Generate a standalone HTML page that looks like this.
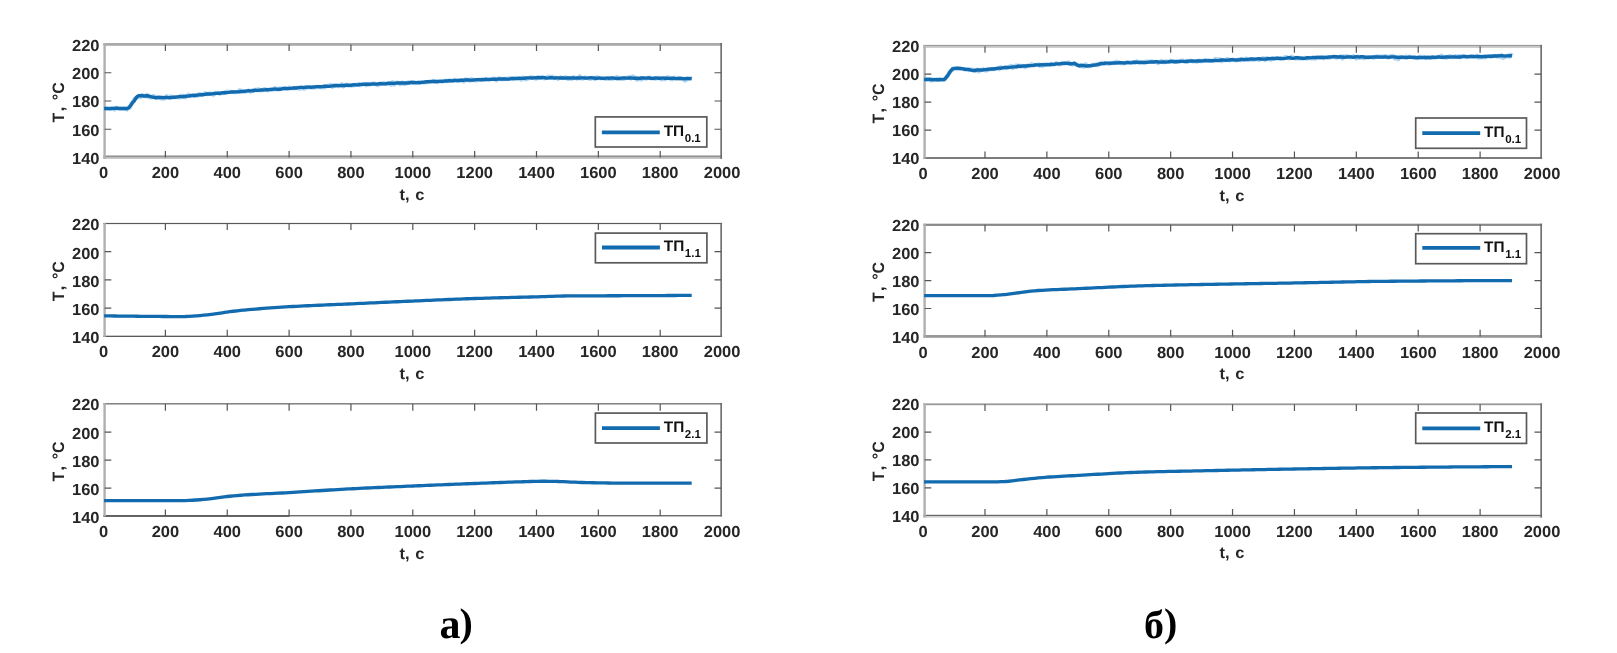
<!DOCTYPE html>
<html lang="ru"><head><meta charset="utf-8"><title>График</title>
<style>
html,body{margin:0;padding:0;background:#fff;}
body{width:1617px;height:653px;overflow:hidden;}
svg{display:block;text-rendering:geometricPrecision;filter:blur(0.4px);}
.t{font-family:"Liberation Sans",sans-serif;font-weight:bold;font-size:16px;fill:#262626;}
.s{font-family:"Liberation Sans",sans-serif;font-weight:bold;font-size:11.5px;fill:#111;}
.lg{font-family:"Liberation Sans",sans-serif;font-weight:bold;font-size:15.4px;fill:#111;}
.cap{font-family:"Liberation Serif",serif;font-weight:bold;font-size:40px;fill:#000;}
</style></head><body>
<svg width="1617" height="653" viewBox="0 0 1617 653">
<rect width="1617" height="653" fill="#fff"/>

<g id="L1">
<clipPath id="cL1"><rect x="104.10" y="44.50" width="616.40" height="113.00"/></clipPath>
<rect x="103.40" y="43.00" width="618.70" height="2.80" fill="#ababab"/>
<rect x="103.40" y="155.60" width="618.70" height="1.20" fill="#6a6a6a"/>
<rect x="103.40" y="156.80" width="618.70" height="2.00" fill="#bdbdbd"/>
<rect x="103.40" y="43.00" width="2.40" height="115.80" fill="#b0b0b0"/>
<rect x="720.35" y="43.00" width="1.60" height="115.80" fill="#6a6a6a"/>
<path d="M165.40,157.50v-6.6M165.40,44.50v6.6M227.25,157.50v-6.6M227.25,44.50v6.6M289.10,157.50v-6.6M289.10,44.50v6.6M350.95,157.50v-6.6M350.95,44.50v6.6M412.80,157.50v-6.6M412.80,44.50v6.6M474.65,157.50v-6.6M474.65,44.50v6.6M536.50,157.50v-6.6M536.50,44.50v6.6M598.35,157.50v-6.6M598.35,44.50v6.6M660.20,157.50v-6.6M660.20,44.50v6.6M104.70,129.25h6.6M721.10,129.25h-6.6M104.70,101.00h6.6M721.10,101.00h-6.6M104.70,72.75h6.6M721.10,72.75h-6.6" stroke="#555" stroke-width="1.2" fill="none"/>
<path d="M103.5,108.49 105.1,108.78 106.6,108.47 108.2,108.23 109.7,108.99 111.3,108.48 112.8,108.49 114.4,109.60 115.9,107.84 117.5,108.10 119.0,108.88 120.6,108.60 122.1,108.17 123.7,108.65 125.2,108.64 126.7,109.41 127.4,108.13 128.3,107.97 129.2,107.04 129.8,107.57 131.4,103.53 132.9,102.19 133.9,101.25 134.5,98.86 136.0,97.97 137.6,97.26 139.1,95.89 140.7,97.09 142.2,94.97 143.8,95.90 145.3,96.10 146.5,94.95 146.8,96.69 148.4,95.54 149.9,97.58 150.9,96.90 151.5,97.38 153.0,96.09 154.6,96.28 156.1,97.81 156.4,97.08 157.7,97.72 159.2,97.25 160.8,98.09 162.3,98.70 163.9,98.76 165.4,97.37 166.9,96.18 168.5,97.44 170.0,97.94 170.7,96.39 171.6,97.44 173.1,97.43 174.7,97.17 176.2,97.21 177.8,97.11 179.3,97.63 180.2,96.30 180.9,96.62 182.4,95.66 184.0,96.50 185.5,97.33 187.0,96.04 188.6,94.75 190.1,95.93 191.7,96.11 193.2,96.16 194.8,95.93 196.3,95.31 197.9,95.73 199.4,93.89 201.0,94.89 202.5,94.50 204.1,93.52 205.6,93.34 207.1,94.30 208.7,93.82 210.2,93.43 211.8,93.89 213.3,94.77 214.9,93.10 216.4,92.82 218.0,93.00 219.5,93.72 221.1,93.14 222.6,93.26 224.2,92.96 225.7,91.82 227.2,91.55 228.8,91.98 230.3,91.94 231.9,91.74 233.4,92.06 235.0,91.98 236.5,92.25 238.1,91.74 239.6,90.15 241.2,90.93 242.7,91.58 244.3,91.55 245.8,91.69 247.4,90.79 248.9,90.67 250.4,91.73 252.0,90.39 253.5,90.95 255.1,89.58 256.6,90.28 258.2,89.18 259.7,90.46 261.3,90.24 262.8,89.76 264.4,89.18 265.9,89.39 267.5,90.43 269.0,89.43 270.5,89.43 272.1,89.62 273.6,89.66 275.2,88.03 276.7,89.29 278.3,89.49 279.8,88.45 281.4,88.67 282.9,88.71 284.5,88.07 286.0,88.16 287.6,88.15 289.1,87.67 290.6,88.02 292.2,88.50 293.7,88.24 295.3,88.25 296.8,87.70 298.4,88.43 299.9,88.82 301.5,87.51 303.0,88.33 304.6,88.63 306.1,87.07 307.7,87.67 309.2,86.82 310.7,87.39 312.3,87.68 313.8,87.67 315.4,87.12 316.9,86.89 318.5,87.15 320.0,86.73 321.6,87.44 323.1,86.38 324.7,87.45 326.2,86.35 327.8,85.70 329.3,85.38 330.8,84.90 332.4,86.90 333.9,85.36 335.5,85.00 337.0,85.06 338.6,86.20 340.1,85.28 341.7,84.28 343.2,86.34 344.8,85.02 346.3,84.54 347.9,85.62 349.4,84.74 350.9,85.72 352.5,85.49 354.0,85.42 355.6,84.71 357.1,84.83 358.7,84.10 360.2,85.24 361.8,84.66 363.3,83.91 364.9,84.10 366.4,85.24 368.0,83.91 369.5,84.58 371.1,83.97 372.6,83.97 374.1,83.33 375.7,83.97 377.2,85.17 378.8,84.80 380.3,83.41 381.9,83.98 383.4,83.04 385.0,83.53 386.5,84.12 388.1,82.90 389.6,84.05 391.2,84.78 392.7,82.11 394.2,84.58 395.8,82.90 397.3,82.65 398.9,83.10 400.4,84.20 402.0,82.43 403.5,83.93 405.1,83.81 406.6,83.12 408.2,82.33 409.7,82.57 411.3,82.19 412.8,82.92 414.3,82.68 415.9,83.23 417.4,82.64 419.0,81.99 420.5,82.49 422.1,81.92 423.6,82.52 425.2,82.45 426.7,81.98 428.3,82.05 429.8,81.48 431.4,81.66 432.9,80.59 434.4,81.76 436.0,81.69 437.5,82.13 439.1,81.38 440.6,80.88 442.2,81.71 443.7,81.19 445.3,80.62 446.8,81.09 448.4,81.26 449.9,80.24 451.5,80.72 453.0,80.45 454.5,79.89 456.1,79.83 457.6,80.71 459.2,80.76 460.7,80.17 462.3,80.37 463.8,81.43 465.4,79.35 466.9,80.08 468.5,79.57 470.0,80.72 471.6,79.10 473.1,80.24 474.7,79.88 476.2,80.65 477.7,79.82 479.3,79.81 480.8,79.74 482.4,79.30 483.9,79.50 485.5,78.88 487.0,79.76 488.6,80.06 490.1,79.40 491.7,78.95 493.2,78.52 494.8,78.75 496.3,80.35 497.8,78.95 499.4,78.22 500.9,79.07 502.5,79.39 504.0,78.82 505.6,79.28 507.1,78.50 508.7,78.86 510.2,77.89 511.8,78.39 513.3,79.08 514.9,78.16 516.4,77.86 517.9,78.73 519.5,78.56 521.0,79.67 522.6,77.55 524.1,78.42 525.7,79.32 527.2,79.03 528.8,77.99 530.3,77.31 531.9,77.81 533.4,77.42 535.0,78.40 536.5,78.55 538.0,77.13 539.6,77.39 541.1,77.73 542.7,76.90 544.2,78.33 545.8,78.01 547.3,77.11 548.9,76.61 550.4,77.79 552.0,76.74 553.5,78.21 555.1,77.64 556.6,77.98 558.1,78.90 559.7,77.74 561.2,77.33 562.8,78.03 564.3,78.00 565.9,77.08 567.4,78.77 569.0,78.94 570.5,78.41 572.1,78.77 573.6,77.16 575.2,77.83 576.7,78.58 578.2,78.43 579.8,76.23 581.3,78.45 582.9,78.55 584.4,77.88 586.0,77.68 587.5,77.95 589.1,78.68 590.6,78.84 592.2,77.73 593.7,78.15 595.3,79.16 596.8,77.37 598.4,77.62 599.9,78.27 601.4,78.28 603.0,77.97 604.5,78.55 606.1,78.97 607.6,77.91 609.2,79.03 610.7,77.87 612.3,79.03 613.8,78.18 615.4,78.20 616.9,76.98 618.5,78.79 620.0,79.02 621.5,78.53 623.1,78.83 624.6,78.49 626.2,77.85 627.7,77.63 629.3,77.06 630.8,78.59 632.4,76.44 633.9,76.86 635.5,78.25 637.0,79.57 638.6,78.17 640.1,78.07 641.6,79.58 643.2,78.07 644.7,78.24 646.3,78.62 647.8,77.72 649.4,77.49 650.9,78.44 652.5,77.99 654.0,78.56 655.6,78.66 657.1,78.12 658.7,77.85 660.2,78.56 661.7,79.62 663.3,77.86 664.8,79.27 666.4,78.19 667.9,77.16 669.5,78.32 671.0,79.09 672.6,79.28 674.1,77.64 675.7,78.41 677.2,78.09 678.8,77.87 680.3,78.51 681.8,78.70 683.4,79.14 684.9,80.52 686.5,79.55 688.0,78.66 689.6,78.75 691.1,78.41 691.7,78.68" fill="none" stroke="#8fc4ec" stroke-width="4.2" stroke-linejoin="round" opacity="0.7" clip-path="url(#cL1)"/>
<path d="M103.5,108.49 105.1,108.44 106.6,108.56 108.2,108.66 109.7,108.63 111.3,108.46 112.8,108.40 114.4,108.34 115.9,108.22 117.5,108.28 119.0,108.39 120.6,108.48 122.1,108.58 123.7,108.51 125.2,108.54 126.7,108.59 127.4,108.47 128.3,108.02 129.2,107.20 129.8,106.56 131.4,104.42 132.9,102.13 133.9,101.11 134.5,100.38 136.0,97.99 137.6,96.27 139.1,95.66 140.7,95.70 142.2,95.77 143.8,95.95 145.3,95.94 146.5,95.81 146.8,95.73 148.4,96.01 149.9,96.45 150.9,96.67 151.5,96.80 153.0,97.14 154.6,97.50 156.1,97.72 156.4,97.66 157.7,97.55 159.2,97.54 160.8,97.53 162.3,97.57 163.9,97.64 165.4,97.57 166.9,97.52 168.5,97.58 170.0,97.66 170.7,97.64 171.6,97.40 173.1,97.25 174.7,97.27 176.2,97.13 177.8,96.88 179.3,96.63 180.2,96.47 180.9,96.58 182.4,96.70 184.0,96.55 185.5,96.27 187.0,96.08 188.6,95.95 190.1,95.76 191.7,95.40 193.2,95.31 194.8,95.49 196.3,95.30 197.9,94.96 199.4,94.84 201.0,94.82 202.5,94.79 204.1,94.58 205.6,94.21 207.1,94.00 208.7,94.01 210.2,93.99 211.8,93.82 213.3,93.63 214.9,93.46 216.4,93.38 218.0,93.31 219.5,93.22 221.1,93.09 222.6,92.79 224.2,92.65 225.7,92.69 227.2,92.60 228.8,92.43 230.3,92.17 231.9,92.02 233.4,91.97 235.0,91.86 236.5,91.85 238.1,91.83 239.6,91.70 241.2,91.54 242.7,91.40 244.3,91.29 245.8,91.16 247.4,90.92 248.9,90.79 250.4,90.89 252.0,90.85 253.5,90.53 255.1,90.32 256.6,90.40 258.2,90.41 259.7,90.12 261.3,89.98 262.8,90.05 264.4,89.92 265.9,89.80 267.5,89.73 269.0,89.61 270.5,89.54 272.1,89.31 273.6,89.07 275.2,89.10 276.7,89.24 278.3,89.27 279.8,89.20 281.4,88.95 282.9,88.60 284.5,88.56 286.0,88.68 287.6,88.65 289.1,88.50 290.6,88.37 292.2,88.17 293.7,87.94 295.3,87.96 296.8,87.95 298.4,87.67 299.9,87.40 301.5,87.36 303.0,87.45 304.6,87.38 306.1,87.24 307.7,87.14 309.2,87.13 310.7,87.21 312.3,87.15 313.8,87.00 315.4,86.84 316.9,86.62 318.5,86.61 320.0,86.68 321.6,86.59 323.1,86.47 324.7,86.30 326.2,86.21 327.8,86.36 329.3,86.34 330.8,86.07 332.4,85.91 333.9,85.80 335.5,85.71 337.0,85.64 338.6,85.58 340.1,85.59 341.7,85.56 343.2,85.55 344.8,85.46 346.3,85.21 347.9,85.19 349.4,85.36 350.9,85.26 352.5,84.94 354.0,84.80 355.6,84.86 357.1,84.91 358.7,84.74 360.2,84.41 361.8,84.33 363.3,84.35 364.9,84.28 366.4,84.22 368.0,84.23 369.5,84.24 371.1,84.15 372.6,84.04 374.1,83.99 375.7,84.09 377.2,84.05 378.8,83.81 380.3,83.68 381.9,83.77 383.4,83.84 385.0,83.79 386.5,83.60 388.1,83.35 389.6,83.25 391.2,83.27 392.7,83.35 394.2,83.34 395.8,83.11 397.3,82.96 398.9,83.03 400.4,83.04 402.0,82.97 403.5,82.95 405.1,82.93 406.6,82.98 408.2,82.95 409.7,82.74 411.3,82.52 412.8,82.42 414.3,82.49 415.9,82.58 417.4,82.67 419.0,82.74 420.5,82.58 422.1,82.34 423.6,82.19 425.2,81.94 426.7,81.79 428.3,81.79 429.8,81.67 431.4,81.59 432.9,81.57 434.4,81.53 436.0,81.50 437.5,81.48 439.1,81.40 440.6,81.34 442.2,81.24 443.7,81.08 445.3,81.03 446.8,80.96 448.4,80.81 449.9,80.80 451.5,80.86 453.0,80.68 454.5,80.57 456.1,80.59 457.6,80.57 459.2,80.47 460.7,80.28 462.3,80.24 463.8,80.18 465.4,80.04 466.9,80.01 468.5,80.03 470.0,80.09 471.6,80.12 473.1,80.07 474.7,79.86 476.2,79.64 477.7,79.58 479.3,79.61 480.8,79.74 482.4,79.77 483.9,79.61 485.5,79.44 487.0,79.39 488.6,79.37 490.1,79.33 491.7,79.33 493.2,79.25 494.8,79.16 496.3,79.21 497.8,79.11 499.4,78.95 500.9,78.96 502.5,79.01 504.0,78.93 505.6,78.91 507.1,79.12 508.7,79.16 510.2,78.87 511.8,78.56 513.3,78.51 514.9,78.62 516.4,78.60 517.9,78.40 519.5,78.29 521.0,78.36 522.6,78.39 524.1,78.24 525.7,77.99 527.2,77.85 528.8,77.83 530.3,77.91 531.9,77.96 533.4,77.87 535.0,77.81 536.5,77.72 538.0,77.68 539.6,77.81 541.1,77.80 542.7,77.64 544.2,77.67 545.8,77.96 547.3,78.14 548.9,77.91 550.4,77.66 552.0,77.69 553.5,77.88 555.1,77.99 556.6,77.91 558.1,77.88 559.7,78.00 561.2,78.05 562.8,78.03 564.3,78.06 565.9,78.10 567.4,78.05 569.0,78.03 570.5,78.02 572.1,77.89 573.6,77.95 575.2,78.10 576.7,77.99 578.2,77.94 579.8,77.98 581.3,77.91 582.9,77.90 584.4,77.96 586.0,78.13 587.5,78.15 589.1,77.89 590.6,77.75 592.2,77.86 593.7,78.00 595.3,78.19 596.8,78.31 598.4,78.13 599.9,78.07 601.4,78.27 603.0,78.39 604.5,78.36 606.1,78.16 607.6,78.08 609.2,78.23 610.7,78.16 612.3,78.00 613.8,78.12 615.4,78.34 616.9,78.45 618.5,78.38 620.0,78.19 621.5,78.10 623.1,77.99 624.6,78.00 626.2,78.17 627.7,78.17 629.3,78.05 630.8,78.04 632.4,78.17 633.9,78.24 635.5,78.16 637.0,78.29 638.6,78.46 640.1,78.29 641.6,77.99 643.2,77.88 644.7,78.12 646.3,78.17 647.8,77.95 649.4,78.00 650.9,78.21 652.5,78.33 654.0,78.24 655.6,78.06 657.1,78.15 658.7,78.29 660.2,78.20 661.7,78.10 663.3,78.17 664.8,78.20 666.4,78.19 667.9,78.30 669.5,78.36 671.0,78.22 672.6,78.14 674.1,78.35 675.7,78.58 677.2,78.62 678.8,78.52 680.3,78.51 681.8,78.53 683.4,78.62 684.9,78.68 686.5,78.57 688.0,78.55 689.6,78.63 691.1,78.60 691.7,78.68" fill="none" stroke="#126aaf" stroke-width="3.4" stroke-linejoin="round" clip-path="url(#cL1)"/>
<text class="t" transform="translate(103.55 178.30) scale(1.03 1)" text-anchor="middle">0</text>
<text class="t" transform="translate(165.40 178.30) scale(1.03 1)" text-anchor="middle">200</text>
<text class="t" transform="translate(227.25 178.30) scale(1.03 1)" text-anchor="middle">400</text>
<text class="t" transform="translate(289.10 178.30) scale(1.03 1)" text-anchor="middle">600</text>
<text class="t" transform="translate(350.95 178.30) scale(1.03 1)" text-anchor="middle">800</text>
<text class="t" transform="translate(412.80 178.30) scale(1.03 1)" text-anchor="middle">1000</text>
<text class="t" transform="translate(474.65 178.30) scale(1.03 1)" text-anchor="middle">1200</text>
<text class="t" transform="translate(536.50 178.30) scale(1.03 1)" text-anchor="middle">1400</text>
<text class="t" transform="translate(598.35 178.30) scale(1.03 1)" text-anchor="middle">1600</text>
<text class="t" transform="translate(660.20 178.30) scale(1.03 1)" text-anchor="middle">1800</text>
<text class="t" transform="translate(722.05 178.30) scale(1.03 1)" text-anchor="middle">2000</text>
<text class="t" transform="translate(99.50 163.90) scale(1.03 1)" text-anchor="end">140</text>
<text class="t" transform="translate(99.50 135.65) scale(1.03 1)" text-anchor="end">160</text>
<text class="t" transform="translate(99.50 107.40) scale(1.03 1)" text-anchor="end">180</text>
<text class="t" transform="translate(99.50 79.15) scale(1.03 1)" text-anchor="end">200</text>
<text class="t" transform="translate(99.50 50.90) scale(1.03 1)" text-anchor="end">220</text>
<text class="t" transform="translate(412.00 200.30) scale(1.03 1)" text-anchor="middle" word-spacing="1.2">t, с</text>
<text class="t" transform="translate(64.00,122.40) rotate(-90) scale(1 1.03)" word-spacing="2.2">T<tspan dx="3.1">,</tspan> °C</text>
<rect x="595.3" y="116.9" width="111.50" height="30.10" fill="#fff" stroke="#5a5a5a" stroke-width="1.7"/>
<path d="M601.90,132.30H659.80" stroke="#126aaf" stroke-width="3.8"/>
<text class="lg" x="663.70" y="135.90">ТП<tspan class="s" dx="0.6" dy="5.9">0.1</tspan></text>
</g>
<g id="L2">
<clipPath id="cL2"><rect x="104.10" y="223.50" width="616.40" height="112.80"/></clipPath>
<rect x="103.40" y="222.90" width="618.70" height="1.20" fill="#5a5a5a"/>
<rect x="103.40" y="335.70" width="618.70" height="1.20" fill="#4a4a4a"/>
<rect x="103.40" y="222.90" width="2.40" height="114.00" fill="#b0b0b0"/>
<rect x="720.35" y="222.90" width="1.60" height="114.00" fill="#6a6a6a"/>
<path d="M165.40,336.30v-6.6M165.40,223.50v6.6M227.25,336.30v-6.6M227.25,223.50v6.6M289.10,336.30v-6.6M289.10,223.50v6.6M350.95,336.30v-6.6M350.95,223.50v6.6M412.80,336.30v-6.6M412.80,223.50v6.6M474.65,336.30v-6.6M474.65,223.50v6.6M536.50,336.30v-6.6M536.50,223.50v6.6M598.35,336.30v-6.6M598.35,223.50v6.6M660.20,336.30v-6.6M660.20,223.50v6.6M104.70,308.10h6.6M721.10,308.10h-6.6M104.70,279.90h6.6M721.10,279.90h-6.6M104.70,251.70h6.6M721.10,251.70h-6.6" stroke="#555" stroke-width="1.2" fill="none"/>
<path d="M103.5,315.86 107.3,315.90 111.0,315.95 114.7,316.00 118.4,316.05 122.1,316.09 125.8,316.13 129.5,316.17 133.2,316.21 136.9,316.24 140.7,316.28 144.4,316.31 148.1,316.35 151.8,316.38 155.5,316.42 159.2,316.45 162.9,316.48 166.6,316.51 170.3,316.53 174.1,316.55 177.8,316.56 180.9,316.56 181.5,316.56 185.2,316.48 188.9,316.31 192.6,316.09 196.3,315.86 200.0,315.58 203.7,315.22 207.5,314.81 211.2,314.38 211.8,314.30 214.9,313.90 218.6,313.34 222.3,312.76 226.0,312.22 227.2,312.05 229.7,311.73 233.4,311.25 237.1,310.81 240.9,310.40 242.7,310.22 244.6,310.04 248.3,309.69 252.0,309.36 255.7,309.04 259.4,308.74 263.1,308.44 266.8,308.16 270.5,307.89 274.3,307.63 278.0,307.38 281.7,307.14 285.4,306.91 289.1,306.69 292.8,306.48 296.5,306.28 300.2,306.09 303.9,305.91 307.7,305.73 311.4,305.56 315.1,305.40 318.8,305.24 322.5,305.08 326.2,304.93 329.9,304.77 333.6,304.62 337.3,304.46 341.1,304.31 344.8,304.15 348.5,303.98 350.9,303.87 352.2,303.81 355.9,303.64 359.6,303.47 363.3,303.30 367.0,303.13 370.7,302.96 374.5,302.79 378.2,302.61 381.9,302.44 385.6,302.27 389.3,302.10 393.0,301.93 396.7,301.76 400.4,301.60 404.1,301.43 407.9,301.27 411.6,301.10 412.8,301.05 415.3,300.94 419.0,300.78 422.7,300.62 426.4,300.45 430.1,300.29 433.8,300.13 437.5,299.97 441.3,299.81 445.0,299.65 448.7,299.49 452.4,299.34 456.1,299.19 459.8,299.04 463.5,298.90 467.2,298.77 470.9,298.64 474.7,298.51 478.4,298.39 482.1,298.28 485.8,298.17 489.5,298.06 493.2,297.95 496.9,297.85 500.6,297.75 504.3,297.66 508.0,297.56 511.8,297.46 515.5,297.37 519.2,297.27 522.9,297.18 526.6,297.08 530.3,296.99 534.0,296.89 536.5,296.82 537.7,296.79 541.4,296.67 545.2,296.55 548.9,296.43 552.6,296.30 556.3,296.19 560.0,296.10 563.7,296.02 567.4,295.97 571.1,295.94 574.8,295.92 578.6,295.89 582.3,295.87 586.0,295.85 589.7,295.84 593.4,295.82 597.1,295.81 600.8,295.79 604.5,295.78 608.2,295.77 612.0,295.76 615.7,295.74 619.4,295.73 623.1,295.72 626.8,295.70 629.3,295.69 630.5,295.69 634.2,295.67 637.9,295.65 641.6,295.64 645.4,295.62 649.1,295.60 652.8,295.59 656.5,295.57 660.2,295.55 663.9,295.54 667.6,295.52 671.3,295.50 675.0,295.49 678.8,295.47 682.5,295.45 686.2,295.44 689.9,295.42 691.7,295.41" fill="none" stroke="#126aaf" stroke-width="3.3" stroke-linejoin="round" clip-path="url(#cL2)"/>
<text class="t" transform="translate(103.55 357.10) scale(1.03 1)" text-anchor="middle">0</text>
<text class="t" transform="translate(165.40 357.10) scale(1.03 1)" text-anchor="middle">200</text>
<text class="t" transform="translate(227.25 357.10) scale(1.03 1)" text-anchor="middle">400</text>
<text class="t" transform="translate(289.10 357.10) scale(1.03 1)" text-anchor="middle">600</text>
<text class="t" transform="translate(350.95 357.10) scale(1.03 1)" text-anchor="middle">800</text>
<text class="t" transform="translate(412.80 357.10) scale(1.03 1)" text-anchor="middle">1000</text>
<text class="t" transform="translate(474.65 357.10) scale(1.03 1)" text-anchor="middle">1200</text>
<text class="t" transform="translate(536.50 357.10) scale(1.03 1)" text-anchor="middle">1400</text>
<text class="t" transform="translate(598.35 357.10) scale(1.03 1)" text-anchor="middle">1600</text>
<text class="t" transform="translate(660.20 357.10) scale(1.03 1)" text-anchor="middle">1800</text>
<text class="t" transform="translate(722.05 357.10) scale(1.03 1)" text-anchor="middle">2000</text>
<text class="t" transform="translate(99.50 343.25) scale(1.03 1)" text-anchor="end">140</text>
<text class="t" transform="translate(99.50 315.05) scale(1.03 1)" text-anchor="end">160</text>
<text class="t" transform="translate(99.50 286.85) scale(1.03 1)" text-anchor="end">180</text>
<text class="t" transform="translate(99.50 258.65) scale(1.03 1)" text-anchor="end">200</text>
<text class="t" transform="translate(99.50 230.45) scale(1.03 1)" text-anchor="end">220</text>
<text class="t" transform="translate(412.00 379.10) scale(1.03 1)" text-anchor="middle" word-spacing="1.2">t, с</text>
<text class="t" transform="translate(64.00,301.30) rotate(-90) scale(1 1.03)" word-spacing="2.2">T<tspan dx="3.1">,</tspan> °C</text>
<rect x="595.4" y="233.1" width="111.50" height="29.70" fill="#fff" stroke="#5a5a5a" stroke-width="1.7"/>
<path d="M602.00,247.50H659.90" stroke="#126aaf" stroke-width="3.8"/>
<text class="lg" x="663.80" y="251.40">ТП<tspan class="s" dx="0.6" dy="5.9">1.1</tspan></text>
</g>
<g id="L3">
<clipPath id="cL3"><rect x="104.10" y="404.10" width="616.40" height="112.00"/></clipPath>
<rect x="103.40" y="403.10" width="618.70" height="1.40" fill="#777"/>
<rect x="103.40" y="515.10" width="618.70" height="1.30" fill="#5e5e5e"/>
<rect x="103.40" y="515.20" width="186.20" height="1.70" fill="#5e5e5e"/>
<rect x="103.40" y="403.10" width="2.40" height="113.30" fill="#b0b0b0"/>
<rect x="720.35" y="403.10" width="1.60" height="113.30" fill="#6a6a6a"/>
<path d="M165.40,516.10v-6.6M165.40,404.10v6.6M227.25,516.10v-6.6M227.25,404.10v6.6M289.10,516.10v-6.6M289.10,404.10v6.6M350.95,516.10v-6.6M350.95,404.10v6.6M412.80,516.10v-6.6M412.80,404.10v6.6M474.65,516.10v-6.6M474.65,404.10v6.6M536.50,516.10v-6.6M536.50,404.10v6.6M598.35,516.10v-6.6M598.35,404.10v6.6M660.20,516.10v-6.6M660.20,404.10v6.6M104.70,488.10h6.6M721.10,488.10h-6.6M104.70,460.10h6.6M721.10,460.10h-6.6M104.70,432.10h6.6M721.10,432.10h-6.6" stroke="#555" stroke-width="1.2" fill="none"/>
<path d="M103.5,500.70 107.3,500.70 111.0,500.70 114.7,500.70 118.4,500.70 122.1,500.70 125.8,500.70 129.5,500.70 133.2,500.70 136.9,500.70 140.7,500.70 144.4,500.70 148.1,500.70 151.8,500.70 155.5,500.70 159.2,500.70 162.9,500.70 166.6,500.70 170.3,500.70 174.1,500.70 177.8,500.70 180.9,500.70 181.5,500.70 185.2,500.62 188.9,500.45 192.6,500.23 196.3,500.00 200.0,499.74 203.7,499.42 207.5,499.06 211.2,498.67 211.8,498.60 214.9,498.22 218.6,497.69 222.3,497.14 226.0,496.64 227.2,496.50 229.7,496.24 233.4,495.87 237.1,495.54 240.9,495.24 242.7,495.10 244.6,494.97 248.3,494.73 252.0,494.50 255.7,494.29 259.4,494.09 263.1,493.90 266.8,493.72 270.5,493.53 274.3,493.35 278.0,493.17 281.7,492.98 285.4,492.79 289.1,492.58 292.8,492.36 296.5,492.14 300.2,491.91 303.9,491.68 307.7,491.44 311.4,491.21 315.1,490.97 318.8,490.73 322.5,490.49 326.2,490.25 329.9,490.02 333.6,489.79 337.3,489.57 341.1,489.35 344.8,489.13 348.5,488.93 350.9,488.80 352.2,488.74 355.9,488.55 359.6,488.36 363.3,488.18 367.0,488.01 370.7,487.83 374.5,487.66 378.2,487.49 381.9,487.33 385.6,487.17 389.3,487.01 393.0,486.85 396.7,486.69 400.4,486.53 404.1,486.37 407.9,486.21 411.6,486.05 412.8,486.00 415.3,485.89 419.0,485.74 422.7,485.58 426.4,485.42 430.1,485.27 433.8,485.11 437.5,484.96 441.3,484.81 445.0,484.65 448.7,484.50 452.4,484.35 456.1,484.20 459.8,484.06 463.5,483.91 467.2,483.77 470.9,483.62 474.7,483.48 478.4,483.34 482.1,483.19 485.8,483.05 489.5,482.91 493.2,482.76 496.9,482.62 500.6,482.49 504.3,482.35 508.0,482.22 511.8,482.09 515.5,481.97 519.2,481.86 521.0,481.80 522.9,481.74 526.6,481.62 530.3,481.49 534.0,481.38 537.7,481.29 541.4,481.24 542.7,481.24 545.2,481.25 548.9,481.30 552.6,481.38 556.3,481.47 558.1,481.52 560.0,481.57 563.7,481.71 567.4,481.87 571.1,482.04 574.8,482.22 578.6,482.37 582.3,482.49 582.9,482.50 586.0,482.57 589.7,482.65 593.4,482.74 597.1,482.81 600.8,482.89 604.5,482.96 608.2,483.02 612.0,483.07 615.7,483.12 619.4,483.16 623.1,483.18 626.8,483.20 629.3,483.20 630.5,483.20 634.2,483.20 637.9,483.20 641.6,483.20 645.4,483.20 649.1,483.20 652.8,483.20 656.5,483.20 660.2,483.20 663.9,483.20 667.6,483.20 671.3,483.20 675.0,483.20 678.8,483.20 682.5,483.20 686.2,483.20 689.9,483.20 691.7,483.20" fill="none" stroke="#126aaf" stroke-width="3.3" stroke-linejoin="round" clip-path="url(#cL3)"/>
<text class="t" transform="translate(103.55 536.90) scale(1.03 1)" text-anchor="middle">0</text>
<text class="t" transform="translate(165.40 536.90) scale(1.03 1)" text-anchor="middle">200</text>
<text class="t" transform="translate(227.25 536.90) scale(1.03 1)" text-anchor="middle">400</text>
<text class="t" transform="translate(289.10 536.90) scale(1.03 1)" text-anchor="middle">600</text>
<text class="t" transform="translate(350.95 536.90) scale(1.03 1)" text-anchor="middle">800</text>
<text class="t" transform="translate(412.80 536.90) scale(1.03 1)" text-anchor="middle">1000</text>
<text class="t" transform="translate(474.65 536.90) scale(1.03 1)" text-anchor="middle">1200</text>
<text class="t" transform="translate(536.50 536.90) scale(1.03 1)" text-anchor="middle">1400</text>
<text class="t" transform="translate(598.35 536.90) scale(1.03 1)" text-anchor="middle">1600</text>
<text class="t" transform="translate(660.20 536.90) scale(1.03 1)" text-anchor="middle">1800</text>
<text class="t" transform="translate(722.05 536.90) scale(1.03 1)" text-anchor="middle">2000</text>
<text class="t" transform="translate(99.50 522.70) scale(1.03 1)" text-anchor="end">140</text>
<text class="t" transform="translate(99.50 494.70) scale(1.03 1)" text-anchor="end">160</text>
<text class="t" transform="translate(99.50 466.70) scale(1.03 1)" text-anchor="end">180</text>
<text class="t" transform="translate(99.50 438.70) scale(1.03 1)" text-anchor="end">200</text>
<text class="t" transform="translate(99.50 409.70) scale(1.03 1)" text-anchor="end">220</text>
<text class="t" transform="translate(412.00 558.90) scale(1.03 1)" text-anchor="middle" word-spacing="1.2">t, с</text>
<text class="t" transform="translate(64.00,481.50) rotate(-90) scale(1 1.03)" word-spacing="2.2">T<tspan dx="3.1">,</tspan> °C</text>
<rect x="595.4" y="413.1" width="111.50" height="29.90" fill="#fff" stroke="#5a5a5a" stroke-width="1.7"/>
<path d="M602.00,428.20H659.90" stroke="#126aaf" stroke-width="3.8"/>
<text class="lg" x="663.80" y="431.80">ТП<tspan class="s" dx="0.6" dy="5.9">2.1</tspan></text>
</g>
<g id="R1">
<clipPath id="cR1"><rect x="924.10" y="46.20" width="616.40" height="111.80"/></clipPath>
<rect x="923.40" y="44.90" width="618.70" height="1.20" fill="#9a9a9a"/>
<rect x="923.40" y="46.10" width="618.70" height="1.70" fill="#c2c2c2"/>
<rect x="923.40" y="157.15" width="618.70" height="1.70" fill="#666"/>
<rect x="923.40" y="44.90" width="2.40" height="113.95" fill="#b0b0b0"/>
<rect x="1540.35" y="44.90" width="1.60" height="113.95" fill="#6a6a6a"/>
<path d="M984.99,158.00v-6.6M984.99,46.20v6.6M1046.88,158.00v-6.6M1046.88,46.20v6.6M1108.77,158.00v-6.6M1108.77,46.20v6.6M1170.66,158.00v-6.6M1170.66,46.20v6.6M1232.55,158.00v-6.6M1232.55,46.20v6.6M1294.44,158.00v-6.6M1294.44,46.20v6.6M1356.33,158.00v-6.6M1356.33,46.20v6.6M1418.22,158.00v-6.6M1418.22,46.20v6.6M1480.11,158.00v-6.6M1480.11,46.20v6.6M924.70,130.05h6.6M1541.10,130.05h-6.6M924.70,102.10h6.6M1541.10,102.10h-6.6M924.70,74.15h6.6M1541.10,74.15h-6.6" stroke="#555" stroke-width="1.2" fill="none"/>
<path d="M923.1,79.60 924.6,80.13 926.2,78.87 927.7,79.87 929.3,80.06 930.8,80.58 932.4,79.60 933.9,80.26 935.5,79.93 937.0,79.32 938.6,79.58 940.1,78.96 941.7,79.41 943.2,79.85 943.8,79.81 944.8,79.32 945.4,77.94 946.3,77.28 947.9,75.42 949.1,72.92 949.4,72.96 951.0,70.84 952.5,69.76 952.8,68.42 954.0,68.37 955.6,68.33 957.1,68.56 957.8,68.80 958.7,68.45 960.2,68.31 961.8,68.76 963.3,69.04 964.9,69.51 966.1,69.19 966.4,69.29 968.0,70.14 969.5,69.43 971.1,69.61 972.6,69.71 973.2,70.32 974.2,70.35 975.7,70.93 977.3,69.67 978.8,71.41 980.3,70.23 981.9,70.10 983.1,69.28 983.4,69.80 985.0,70.31 986.5,70.48 988.1,69.91 989.6,69.24 991.2,69.13 992.7,69.13 994.3,69.27 995.8,68.81 997.4,67.90 998.9,69.06 999.8,68.26 1000.5,67.20 1002.0,67.72 1003.6,68.21 1005.1,67.35 1006.7,68.08 1008.2,67.45 1009.7,66.32 1011.3,65.95 1012.8,68.07 1014.4,66.41 1015.9,65.48 1017.2,66.95 1017.5,66.41 1019.0,65.50 1020.6,66.63 1022.1,65.91 1023.7,66.11 1025.2,67.16 1026.8,65.61 1028.3,65.83 1029.9,65.01 1031.4,64.17 1033.0,64.95 1034.5,65.50 1036.0,64.89 1037.6,64.95 1039.1,64.34 1040.1,65.83 1040.7,65.62 1042.2,66.09 1043.8,64.33 1045.3,64.63 1046.9,64.92 1048.4,64.88 1050.0,64.69 1051.5,64.82 1053.1,64.35 1054.6,64.36 1056.2,63.09 1057.7,63.68 1059.3,64.32 1060.8,64.10 1062.4,62.91 1063.9,63.32 1065.4,63.36 1067.0,63.04 1068.5,62.46 1070.1,64.19 1071.6,63.87 1073.2,64.49 1074.1,63.08 1074.7,63.75 1076.0,64.51 1076.3,64.70 1077.8,64.61 1079.4,65.78 1080.0,66.10 1080.9,64.98 1082.5,66.42 1084.0,66.56 1085.6,64.13 1087.1,66.00 1088.7,66.11 1089.0,66.22 1090.2,65.79 1091.8,65.02 1093.3,64.76 1094.8,64.58 1096.4,64.82 1097.9,65.32 1099.5,63.91 1101.0,62.85 1102.6,62.89 1104.1,63.51 1104.4,62.88 1105.7,63.57 1107.2,63.28 1108.8,63.95 1110.3,63.31 1111.9,62.96 1113.4,63.10 1115.0,62.45 1116.5,61.70 1118.1,62.00 1119.6,62.98 1121.1,63.21 1122.7,63.12 1124.2,63.29 1125.8,62.61 1127.3,62.34 1128.9,62.46 1130.4,62.42 1132.0,62.41 1133.5,62.57 1135.1,62.93 1136.6,61.35 1138.2,61.75 1139.7,62.95 1141.3,62.93 1142.8,62.70 1144.4,62.29 1145.9,61.49 1147.5,61.62 1149.0,61.56 1150.5,61.52 1152.1,61.47 1153.6,61.68 1155.2,61.82 1156.7,62.14 1158.3,63.13 1159.8,62.07 1161.4,60.82 1162.9,62.25 1164.5,62.26 1166.0,61.18 1167.6,61.73 1169.1,62.04 1170.7,60.72 1172.2,61.26 1173.8,61.13 1175.3,61.92 1176.8,61.21 1178.4,61.24 1179.9,60.95 1181.5,60.67 1183.0,60.64 1184.6,61.19 1186.1,60.82 1187.7,61.93 1189.2,60.76 1190.8,60.69 1192.3,61.32 1193.9,61.52 1195.4,61.02 1197.0,61.70 1198.5,60.68 1200.1,60.67 1201.6,61.40 1203.2,60.73 1204.7,60.04 1206.2,60.00 1207.8,59.99 1209.3,60.67 1210.9,60.74 1212.4,60.73 1214.0,60.07 1215.5,58.92 1217.1,59.47 1218.6,59.31 1220.2,59.41 1221.7,61.23 1223.3,60.29 1224.8,60.39 1226.4,59.29 1227.9,58.97 1229.5,60.40 1231.0,59.92 1232.5,59.55 1234.1,60.16 1235.6,60.20 1237.2,60.18 1238.7,59.15 1240.3,60.24 1241.8,58.90 1243.4,59.51 1244.9,59.05 1246.5,58.50 1248.0,59.84 1249.6,59.89 1251.1,59.06 1252.7,59.93 1254.2,59.69 1255.8,59.25 1257.3,59.03 1258.9,59.86 1260.4,59.27 1261.9,58.62 1263.5,58.09 1265.0,60.12 1266.6,58.02 1268.1,58.24 1269.7,59.43 1271.2,59.62 1272.8,58.39 1274.3,58.87 1275.9,58.48 1277.4,57.98 1279.0,58.71 1280.5,58.33 1282.1,58.09 1283.6,57.79 1285.2,57.20 1286.7,57.20 1288.3,58.07 1289.8,58.34 1291.3,56.66 1292.9,57.71 1294.4,57.81 1296.0,58.73 1297.5,57.52 1299.1,58.46 1300.6,58.22 1302.2,58.73 1303.7,58.19 1305.3,57.78 1306.8,58.72 1308.4,58.31 1309.9,57.76 1311.5,58.46 1313.0,58.42 1314.6,58.12 1316.1,58.44 1317.6,57.14 1319.2,58.11 1320.7,56.97 1322.3,56.84 1323.8,58.13 1325.4,57.32 1326.9,57.61 1328.5,57.99 1330.0,57.46 1331.6,57.37 1333.1,56.75 1334.7,56.52 1336.2,57.83 1337.8,57.37 1339.3,56.76 1340.9,56.33 1342.4,58.58 1344.0,56.23 1345.5,57.12 1347.0,56.04 1348.6,57.26 1350.1,57.50 1351.7,56.94 1353.2,56.23 1354.8,56.94 1356.3,58.44 1357.9,56.53 1359.4,57.97 1361.0,57.58 1362.5,57.70 1364.1,58.13 1365.6,57.77 1367.2,57.61 1368.7,57.38 1370.3,57.03 1371.8,57.22 1373.3,57.95 1374.9,57.14 1376.4,56.42 1378.0,56.45 1379.5,56.97 1381.1,56.67 1382.6,56.51 1384.2,56.23 1385.7,56.02 1387.3,57.30 1388.8,57.28 1390.4,56.20 1391.9,56.16 1393.5,56.18 1395.0,58.64 1396.6,57.33 1398.1,59.25 1399.7,56.77 1401.2,57.21 1402.7,57.23 1404.3,57.37 1405.8,56.48 1407.4,57.50 1408.9,56.68 1410.5,57.00 1412.0,57.13 1413.6,57.08 1415.1,57.30 1416.7,58.07 1418.2,56.93 1419.8,56.93 1421.3,57.46 1422.9,56.91 1424.4,56.79 1426.0,58.15 1427.5,57.42 1429.1,57.59 1430.6,57.87 1432.1,57.07 1433.7,57.79 1435.2,57.50 1436.8,57.05 1438.3,56.96 1439.9,56.95 1441.4,55.72 1443.0,57.41 1444.5,56.91 1446.1,57.79 1447.6,56.70 1449.2,56.25 1450.7,56.18 1452.3,57.31 1453.8,57.06 1455.4,56.06 1456.9,56.88 1458.4,56.19 1460.0,57.37 1461.5,55.86 1463.1,56.06 1464.6,56.39 1466.2,57.16 1467.7,56.73 1469.3,56.51 1470.8,56.41 1472.4,56.62 1473.9,56.66 1475.5,56.38 1477.0,55.60 1478.6,57.71 1480.1,57.28 1481.7,57.37 1483.2,56.80 1484.8,57.44 1486.3,55.97 1487.8,56.23 1489.4,56.42 1490.9,56.66 1492.5,56.11 1494.0,56.06 1495.6,55.94 1497.1,56.58 1498.7,55.68 1500.2,56.99 1501.8,55.25 1503.3,57.94 1504.9,56.35 1506.4,56.70 1508.0,55.42 1509.5,56.82 1511.1,54.71 1512.0,55.84" fill="none" stroke="#8fc4ec" stroke-width="4.2" stroke-linejoin="round" opacity="0.7" clip-path="url(#cR1)"/>
<path d="M923.1,79.60 924.6,79.39 926.2,79.53 927.7,79.38 929.3,79.20 930.8,79.48 932.4,79.77 933.9,79.57 935.5,79.60 937.0,79.76 938.6,79.69 940.1,79.70 941.7,79.64 943.2,79.60 943.8,79.63 944.8,79.03 945.4,78.43 946.3,77.38 947.9,75.24 949.1,73.38 949.4,72.76 951.0,70.48 952.5,68.96 952.8,68.85 954.0,68.63 955.6,68.40 957.1,68.26 957.8,68.25 958.7,68.33 960.2,68.49 961.8,68.58 963.3,68.82 964.9,69.24 966.1,69.45 966.4,69.35 968.0,69.41 969.5,69.72 971.1,70.13 972.6,70.37 973.2,70.51 974.2,70.47 975.7,70.22 977.3,69.98 978.8,69.91 980.3,70.05 981.9,70.07 983.1,69.87 983.4,69.77 985.0,69.64 986.5,69.48 988.1,69.30 989.6,69.11 991.2,69.03 992.7,68.94 994.3,68.77 995.8,68.68 997.4,68.42 998.9,68.08 999.8,68.18 1000.5,68.26 1002.0,67.88 1003.6,67.60 1005.1,67.52 1006.7,67.48 1008.2,67.40 1009.7,67.35 1011.3,67.15 1012.8,66.85 1014.4,66.83 1015.9,66.83 1017.2,66.57 1017.5,66.29 1019.0,66.22 1020.6,66.31 1022.1,66.19 1023.7,65.94 1025.2,65.90 1026.8,65.93 1028.3,65.71 1029.9,65.61 1031.4,65.62 1033.0,65.42 1034.5,65.06 1036.0,64.86 1037.6,64.89 1039.1,64.95 1040.1,64.97 1040.7,64.82 1042.2,64.76 1043.8,64.89 1045.3,64.73 1046.9,64.57 1048.4,64.64 1050.0,64.46 1051.5,64.30 1053.1,64.37 1054.6,64.22 1056.2,63.92 1057.7,63.84 1059.3,63.84 1060.8,63.64 1062.4,63.46 1063.9,63.33 1065.4,63.27 1067.0,63.33 1068.5,63.49 1070.1,63.73 1071.6,63.78 1073.2,63.65 1074.1,63.44 1074.7,63.53 1076.0,64.29 1076.3,64.48 1077.8,65.36 1079.4,65.90 1080.0,65.66 1080.9,65.53 1082.5,65.45 1084.0,65.55 1085.6,65.94 1087.1,65.94 1088.7,65.63 1089.0,65.76 1090.2,65.85 1091.8,65.49 1093.3,65.21 1094.8,65.03 1096.4,64.73 1097.9,64.38 1099.5,64.02 1101.0,63.72 1102.6,63.59 1104.1,63.44 1104.4,63.31 1105.7,63.16 1107.2,63.09 1108.8,63.14 1110.3,63.22 1111.9,63.11 1113.4,62.96 1115.0,63.01 1116.5,63.01 1118.1,62.92 1119.6,62.75 1121.1,62.73 1122.7,62.90 1124.2,62.94 1125.8,62.80 1127.3,62.56 1128.9,62.64 1130.4,62.84 1132.0,62.63 1133.5,62.25 1135.1,62.07 1136.6,62.21 1138.2,62.44 1139.7,62.35 1141.3,62.19 1142.8,62.35 1144.4,62.47 1145.9,62.52 1147.5,62.40 1149.0,62.10 1150.5,62.00 1152.1,62.02 1153.6,61.95 1155.2,61.82 1156.7,61.79 1158.3,61.95 1159.8,62.11 1161.4,62.04 1162.9,61.86 1164.5,61.97 1166.0,62.09 1167.6,61.92 1169.1,61.70 1170.7,61.51 1172.2,61.51 1173.8,61.70 1175.3,61.75 1176.8,61.71 1178.4,61.68 1179.9,61.50 1181.5,61.33 1183.0,61.42 1184.6,61.61 1186.1,61.45 1187.7,61.19 1189.2,61.17 1190.8,61.05 1192.3,60.96 1193.9,61.10 1195.4,61.13 1197.0,61.04 1198.5,61.02 1200.1,60.93 1201.6,60.85 1203.2,60.87 1204.7,60.82 1206.2,60.81 1207.8,60.83 1209.3,60.73 1210.9,60.76 1212.4,60.81 1214.0,60.63 1215.5,60.50 1217.1,60.60 1218.6,60.58 1220.2,60.25 1221.7,60.02 1223.3,60.01 1224.8,60.12 1226.4,60.22 1227.9,60.17 1229.5,59.95 1231.0,59.74 1232.5,59.77 1234.1,59.90 1235.6,60.06 1237.2,60.07 1238.7,59.82 1240.3,59.57 1241.8,59.47 1243.4,59.62 1244.9,59.68 1246.5,59.51 1248.0,59.36 1249.6,59.08 1251.1,58.89 1252.7,58.96 1254.2,59.12 1255.8,59.11 1257.3,58.84 1258.9,58.80 1260.4,58.94 1261.9,59.04 1263.5,59.09 1265.0,59.07 1266.6,58.95 1268.1,58.79 1269.7,58.61 1271.2,58.45 1272.8,58.47 1274.3,58.54 1275.9,58.40 1277.4,58.27 1279.0,58.33 1280.5,58.44 1282.1,58.64 1283.6,58.58 1285.2,58.32 1286.7,58.05 1288.3,57.64 1289.8,57.72 1291.3,58.26 1292.9,58.38 1294.4,58.05 1296.0,57.73 1297.5,57.70 1299.1,57.95 1300.6,58.17 1302.2,58.30 1303.7,58.40 1305.3,58.20 1306.8,57.78 1308.4,57.70 1309.9,57.83 1311.5,57.63 1313.0,57.39 1314.6,57.48 1316.1,57.55 1317.6,57.42 1319.2,57.36 1320.7,57.44 1322.3,57.51 1323.8,57.47 1325.4,57.40 1326.9,57.29 1328.5,57.07 1330.0,56.96 1331.6,56.86 1333.1,56.72 1334.7,56.70 1336.2,56.80 1337.8,56.98 1339.3,56.93 1340.9,56.81 1342.4,57.03 1344.0,57.23 1345.5,57.16 1347.0,57.00 1348.6,56.84 1350.1,56.82 1351.7,57.05 1353.2,57.20 1354.8,56.97 1356.3,56.80 1357.9,56.90 1359.4,56.94 1361.0,56.80 1362.5,56.73 1364.1,56.98 1365.6,57.22 1367.2,57.17 1368.7,57.18 1370.3,57.21 1371.8,57.08 1373.3,57.03 1374.9,56.99 1376.4,56.99 1378.0,56.96 1379.5,56.89 1381.1,57.07 1382.6,57.18 1384.2,57.03 1385.7,56.95 1387.3,57.11 1388.8,57.20 1390.4,57.05 1391.9,56.86 1393.5,56.84 1395.0,57.04 1396.6,57.21 1398.1,57.37 1399.7,57.47 1401.2,57.28 1402.7,57.21 1404.3,57.41 1405.8,57.55 1407.4,57.43 1408.9,57.27 1410.5,57.30 1412.0,57.38 1413.6,57.44 1415.1,57.47 1416.7,57.62 1418.2,57.75 1419.8,57.49 1421.3,57.44 1422.9,57.63 1424.4,57.56 1426.0,57.49 1427.5,57.53 1429.1,57.56 1430.6,57.57 1432.1,57.29 1433.7,57.16 1435.2,57.33 1436.8,57.20 1438.3,56.98 1439.9,57.07 1441.4,57.25 1443.0,57.25 1444.5,57.11 1446.1,57.00 1447.6,57.03 1449.2,57.07 1450.7,56.93 1452.3,56.85 1453.8,56.87 1455.4,57.00 1456.9,57.09 1458.4,57.03 1460.0,56.96 1461.5,56.81 1463.1,56.57 1464.6,56.47 1466.2,56.59 1467.7,56.72 1469.3,56.66 1470.8,56.45 1472.4,56.38 1473.9,56.50 1475.5,56.59 1477.0,56.57 1478.6,56.41 1480.1,56.48 1481.7,56.72 1483.2,56.57 1484.8,56.56 1486.3,56.66 1487.8,56.41 1489.4,56.22 1490.9,56.28 1492.5,56.22 1494.0,55.97 1495.6,56.01 1497.1,56.05 1498.7,55.86 1500.2,55.81 1501.8,55.79 1503.3,55.93 1504.9,56.07 1506.4,55.88 1508.0,55.83 1509.5,55.81 1511.1,55.76 1512.0,55.84" fill="none" stroke="#126aaf" stroke-width="3.4" stroke-linejoin="round" clip-path="url(#cR1)"/>
<text class="t" transform="translate(923.10 178.80) scale(1.03 1)" text-anchor="middle">0</text>
<text class="t" transform="translate(984.99 178.80) scale(1.03 1)" text-anchor="middle">200</text>
<text class="t" transform="translate(1046.88 178.80) scale(1.03 1)" text-anchor="middle">400</text>
<text class="t" transform="translate(1108.77 178.80) scale(1.03 1)" text-anchor="middle">600</text>
<text class="t" transform="translate(1170.66 178.80) scale(1.03 1)" text-anchor="middle">800</text>
<text class="t" transform="translate(1232.55 178.80) scale(1.03 1)" text-anchor="middle">1000</text>
<text class="t" transform="translate(1294.44 178.80) scale(1.03 1)" text-anchor="middle">1200</text>
<text class="t" transform="translate(1356.33 178.80) scale(1.03 1)" text-anchor="middle">1400</text>
<text class="t" transform="translate(1418.22 178.80) scale(1.03 1)" text-anchor="middle">1600</text>
<text class="t" transform="translate(1480.11 178.80) scale(1.03 1)" text-anchor="middle">1800</text>
<text class="t" transform="translate(1542.00 178.80) scale(1.03 1)" text-anchor="middle">2000</text>
<text class="t" transform="translate(919.50 164.30) scale(1.03 1)" text-anchor="end">140</text>
<text class="t" transform="translate(919.50 136.35) scale(1.03 1)" text-anchor="end">160</text>
<text class="t" transform="translate(919.50 108.40) scale(1.03 1)" text-anchor="end">180</text>
<text class="t" transform="translate(919.50 80.45) scale(1.03 1)" text-anchor="end">200</text>
<text class="t" transform="translate(919.50 51.50) scale(1.03 1)" text-anchor="end">220</text>
<text class="t" transform="translate(1232.00 200.80) scale(1.03 1)" text-anchor="middle" word-spacing="1.2">t, с</text>
<text class="t" transform="translate(884.00,123.50) rotate(-90) scale(1 1.03)" word-spacing="2.2">T<tspan dx="3.1">,</tspan> °C</text>
<rect x="1415.7" y="118.0" width="110.80" height="30.30" fill="#fff" stroke="#5a5a5a" stroke-width="1.7"/>
<path d="M1422.30,133.20H1480.20" stroke="#126aaf" stroke-width="3.8"/>
<text class="lg" x="1484.10" y="136.80">ТП<tspan class="s" dx="0.6" dy="5.9">0.1</tspan></text>
</g>
<g id="R2">
<clipPath id="cR2"><rect x="924.10" y="224.80" width="616.40" height="111.60"/></clipPath>
<rect x="923.40" y="223.70" width="618.70" height="2.20" fill="#888"/>
<rect x="923.40" y="335.00" width="618.70" height="2.80" fill="#999"/>
<rect x="923.40" y="223.70" width="2.40" height="114.10" fill="#b0b0b0"/>
<rect x="1540.35" y="223.70" width="1.60" height="114.10" fill="#6a6a6a"/>
<path d="M984.99,336.40v-6.6M984.99,224.80v6.6M1046.88,336.40v-6.6M1046.88,224.80v6.6M1108.77,336.40v-6.6M1108.77,224.80v6.6M1170.66,336.40v-6.6M1170.66,224.80v6.6M1232.55,336.40v-6.6M1232.55,224.80v6.6M1294.44,336.40v-6.6M1294.44,224.80v6.6M1356.33,336.40v-6.6M1356.33,224.80v6.6M1418.22,336.40v-6.6M1418.22,224.80v6.6M1480.11,336.40v-6.6M1480.11,224.80v6.6M924.70,308.50h6.6M1541.10,308.50h-6.6M924.70,280.60h6.6M1541.10,280.60h-6.6M924.70,252.70h6.6M1541.10,252.70h-6.6" stroke="#555" stroke-width="1.2" fill="none"/>
<path d="M923.1,295.67 926.8,295.67 930.5,295.67 934.2,295.67 938.0,295.67 941.7,295.67 945.4,295.67 949.1,295.67 952.8,295.67 956.5,295.67 960.2,295.67 963.9,295.67 967.7,295.67 971.4,295.67 975.1,295.67 978.8,295.67 982.5,295.67 986.2,295.67 988.1,295.67 989.9,295.64 993.7,295.49 997.4,295.22 1001.1,294.90 1003.6,294.69 1004.8,294.58 1008.5,294.16 1012.2,293.67 1015.9,293.15 1019.0,292.74 1019.6,292.66 1023.4,292.15 1027.1,291.62 1030.8,291.14 1034.5,290.78 1038.2,290.52 1041.9,290.29 1045.6,290.08 1049.4,289.89 1053.1,289.72 1056.8,289.56 1060.5,289.41 1064.2,289.26 1067.9,289.11 1071.6,288.96 1075.3,288.80 1077.8,288.69 1079.1,288.63 1082.8,288.46 1086.5,288.27 1090.2,288.09 1093.9,287.90 1097.6,287.72 1101.3,287.53 1105.1,287.35 1108.8,287.17 1112.5,286.99 1116.2,286.82 1119.9,286.65 1123.6,286.49 1127.3,286.34 1131.1,286.19 1134.8,286.06 1138.5,285.94 1139.7,285.90 1142.2,285.83 1145.9,285.72 1149.6,285.62 1153.3,285.52 1157.0,285.43 1160.8,285.34 1164.5,285.26 1168.2,285.17 1171.9,285.09 1175.6,285.02 1179.3,284.94 1183.0,284.87 1186.8,284.79 1190.5,284.72 1194.2,284.65 1197.9,284.58 1201.6,284.51 1205.3,284.44 1209.0,284.37 1212.7,284.30 1216.5,284.23 1220.2,284.17 1223.9,284.11 1227.6,284.04 1231.3,283.98 1235.0,283.92 1238.7,283.86 1242.5,283.80 1246.2,283.74 1249.9,283.69 1253.6,283.63 1257.3,283.57 1261.0,283.51 1264.7,283.45 1268.4,283.40 1272.2,283.34 1275.9,283.28 1279.6,283.22 1283.3,283.16 1287.0,283.10 1290.7,283.03 1294.4,282.97 1298.2,282.91 1301.9,282.84 1305.6,282.77 1309.3,282.69 1313.0,282.62 1316.7,282.54 1320.4,282.46 1324.1,282.39 1327.9,282.31 1331.6,282.23 1335.3,282.15 1339.0,282.07 1342.7,282.00 1346.4,281.92 1350.1,281.85 1353.9,281.78 1357.6,281.71 1361.3,281.65 1365.0,281.58 1368.7,281.52 1372.4,281.47 1376.1,281.42 1379.8,281.37 1383.6,281.33 1387.3,281.30 1391.0,281.27 1394.7,281.23 1398.4,281.20 1402.1,281.17 1405.8,281.14 1409.6,281.11 1413.3,281.08 1417.0,281.05 1420.7,281.02 1424.4,280.99 1428.1,280.96 1431.8,280.93 1435.5,280.91 1439.3,280.88 1443.0,280.85 1446.7,280.83 1450.4,280.81 1454.1,280.79 1457.8,280.76 1461.5,280.74 1465.3,280.72 1469.0,280.71 1472.7,280.69 1476.4,280.67 1480.1,280.66 1483.8,280.65 1487.5,280.64 1491.3,280.63 1495.0,280.62 1498.7,280.61 1502.4,280.61 1506.1,280.60 1509.8,280.60 1512.0,280.60" fill="none" stroke="#126aaf" stroke-width="3.3" stroke-linejoin="round" clip-path="url(#cR2)"/>
<text class="t" transform="translate(923.10 358.00) scale(1.03 1)" text-anchor="middle">0</text>
<text class="t" transform="translate(984.99 358.00) scale(1.03 1)" text-anchor="middle">200</text>
<text class="t" transform="translate(1046.88 358.00) scale(1.03 1)" text-anchor="middle">400</text>
<text class="t" transform="translate(1108.77 358.00) scale(1.03 1)" text-anchor="middle">600</text>
<text class="t" transform="translate(1170.66 358.00) scale(1.03 1)" text-anchor="middle">800</text>
<text class="t" transform="translate(1232.55 358.00) scale(1.03 1)" text-anchor="middle">1000</text>
<text class="t" transform="translate(1294.44 358.00) scale(1.03 1)" text-anchor="middle">1200</text>
<text class="t" transform="translate(1356.33 358.00) scale(1.03 1)" text-anchor="middle">1400</text>
<text class="t" transform="translate(1418.22 358.00) scale(1.03 1)" text-anchor="middle">1600</text>
<text class="t" transform="translate(1480.11 358.00) scale(1.03 1)" text-anchor="middle">1800</text>
<text class="t" transform="translate(1542.00 358.00) scale(1.03 1)" text-anchor="middle">2000</text>
<text class="t" transform="translate(919.50 343.00) scale(1.03 1)" text-anchor="end">140</text>
<text class="t" transform="translate(919.50 315.10) scale(1.03 1)" text-anchor="end">160</text>
<text class="t" transform="translate(919.50 287.20) scale(1.03 1)" text-anchor="end">180</text>
<text class="t" transform="translate(919.50 259.30) scale(1.03 1)" text-anchor="end">200</text>
<text class="t" transform="translate(919.50 231.40) scale(1.03 1)" text-anchor="end">220</text>
<text class="t" transform="translate(1232.00 379.20) scale(1.03 1)" text-anchor="middle" word-spacing="1.2">t, с</text>
<text class="t" transform="translate(884.00,302.00) rotate(-90) scale(1 1.03)" word-spacing="2.2">T<tspan dx="3.1">,</tspan> °C</text>
<rect x="1415.7" y="233.7" width="110.80" height="30.00" fill="#fff" stroke="#5a5a5a" stroke-width="1.7"/>
<path d="M1422.30,247.80H1480.20" stroke="#126aaf" stroke-width="3.8"/>
<text class="lg" x="1484.10" y="252.40">ТП<tspan class="s" dx="0.6" dy="5.9">1.1</tspan></text>
</g>
<g id="R3">
<clipPath id="cR3"><rect x="924.10" y="404.30" width="616.40" height="111.30"/></clipPath>
<rect x="923.40" y="403.40" width="618.70" height="1.80" fill="#999"/>
<rect x="923.40" y="514.80" width="618.70" height="1.40" fill="#666"/>
<rect x="923.40" y="516.20" width="618.70" height="1.40" fill="#ccc"/>
<rect x="923.40" y="403.40" width="2.40" height="114.20" fill="#b0b0b0"/>
<rect x="1540.35" y="403.40" width="1.60" height="114.20" fill="#6a6a6a"/>
<path d="M984.99,515.60v-6.6M984.99,404.30v6.6M1046.88,515.60v-6.6M1046.88,404.30v6.6M1108.77,515.60v-6.6M1108.77,404.30v6.6M1170.66,515.60v-6.6M1170.66,404.30v6.6M1232.55,515.60v-6.6M1232.55,404.30v6.6M1294.44,515.60v-6.6M1294.44,404.30v6.6M1356.33,515.60v-6.6M1356.33,404.30v6.6M1418.22,515.60v-6.6M1418.22,404.30v6.6M1480.11,515.60v-6.6M1480.11,404.30v6.6M924.70,487.78h6.6M1541.10,487.78h-6.6M924.70,459.95h6.6M1541.10,459.95h-6.6M924.70,432.12h6.6M1541.10,432.12h-6.6" stroke="#555" stroke-width="1.2" fill="none"/>
<path d="M923.1,481.93 926.8,481.93 930.5,481.93 934.2,481.93 938.0,481.93 941.7,481.93 945.4,481.93 949.1,481.93 952.8,481.93 956.5,481.93 960.2,481.93 963.9,481.93 967.7,481.93 971.4,481.93 975.1,481.93 978.8,481.93 982.5,481.93 986.2,481.93 989.9,481.93 992.7,481.93 993.7,481.93 997.4,481.86 1001.1,481.71 1004.8,481.53 1005.1,481.51 1008.5,481.24 1012.2,480.78 1015.9,480.30 1017.5,480.12 1019.6,479.89 1023.4,479.49 1027.1,479.09 1030.8,478.69 1034.5,478.30 1038.2,477.94 1041.9,477.60 1045.6,477.30 1046.9,477.20 1049.4,477.02 1053.1,476.78 1056.8,476.55 1060.5,476.33 1064.2,476.12 1067.9,475.92 1071.6,475.73 1075.3,475.53 1077.8,475.39 1079.1,475.32 1082.8,475.11 1086.5,474.90 1090.2,474.68 1093.9,474.47 1097.6,474.25 1101.3,474.03 1105.1,473.82 1108.8,473.61 1112.5,473.40 1116.2,473.21 1119.9,473.02 1123.6,472.83 1127.3,472.66 1131.1,472.51 1134.8,472.36 1138.5,472.23 1139.7,472.19 1142.2,472.12 1145.9,472.01 1149.6,471.91 1153.3,471.81 1157.0,471.72 1160.8,471.63 1164.5,471.55 1168.2,471.47 1171.9,471.39 1175.6,471.32 1179.3,471.24 1183.0,471.17 1186.8,471.10 1190.5,471.03 1194.2,470.95 1197.9,470.88 1201.6,470.80 1205.3,470.72 1209.0,470.65 1212.7,470.57 1216.5,470.49 1220.2,470.41 1223.9,470.34 1227.6,470.26 1231.3,470.19 1235.0,470.11 1238.7,470.04 1242.5,469.96 1246.2,469.89 1249.9,469.81 1253.6,469.74 1257.3,469.67 1261.0,469.60 1264.7,469.53 1268.4,469.46 1272.2,469.39 1275.9,469.32 1279.6,469.25 1283.3,469.19 1287.0,469.12 1290.7,469.06 1294.4,468.99 1298.2,468.93 1301.9,468.87 1305.6,468.80 1309.3,468.74 1313.0,468.68 1316.7,468.62 1320.4,468.55 1324.1,468.49 1327.9,468.43 1331.6,468.37 1335.3,468.31 1339.0,468.25 1342.7,468.19 1346.4,468.14 1350.1,468.08 1353.9,468.03 1357.6,467.97 1361.3,467.92 1365.0,467.87 1368.7,467.82 1372.4,467.77 1376.1,467.73 1379.8,467.68 1383.6,467.64 1387.3,467.60 1391.0,467.56 1394.7,467.52 1398.4,467.49 1402.1,467.45 1405.8,467.41 1409.6,467.38 1413.3,467.34 1417.0,467.30 1420.7,467.27 1424.4,467.23 1428.1,467.20 1431.8,467.16 1435.5,467.13 1439.3,467.10 1443.0,467.07 1446.7,467.03 1450.4,467.00 1454.1,466.97 1457.8,466.94 1461.5,466.92 1465.3,466.89 1469.0,466.86 1472.7,466.84 1476.4,466.81 1480.1,466.79 1483.8,466.77 1487.5,466.74 1491.3,466.72 1495.0,466.70 1498.7,466.68 1502.4,466.67 1506.1,466.65 1509.8,466.64 1512.0,466.63" fill="none" stroke="#126aaf" stroke-width="3.3" stroke-linejoin="round" clip-path="url(#cR3)"/>
<text class="t" transform="translate(923.10 537.00) scale(1.03 1)" text-anchor="middle">0</text>
<text class="t" transform="translate(984.99 537.00) scale(1.03 1)" text-anchor="middle">200</text>
<text class="t" transform="translate(1046.88 537.00) scale(1.03 1)" text-anchor="middle">400</text>
<text class="t" transform="translate(1108.77 537.00) scale(1.03 1)" text-anchor="middle">600</text>
<text class="t" transform="translate(1170.66 537.00) scale(1.03 1)" text-anchor="middle">800</text>
<text class="t" transform="translate(1232.55 537.00) scale(1.03 1)" text-anchor="middle">1000</text>
<text class="t" transform="translate(1294.44 537.00) scale(1.03 1)" text-anchor="middle">1200</text>
<text class="t" transform="translate(1356.33 537.00) scale(1.03 1)" text-anchor="middle">1400</text>
<text class="t" transform="translate(1418.22 537.00) scale(1.03 1)" text-anchor="middle">1600</text>
<text class="t" transform="translate(1480.11 537.00) scale(1.03 1)" text-anchor="middle">1800</text>
<text class="t" transform="translate(1542.00 537.00) scale(1.03 1)" text-anchor="middle">2000</text>
<text class="t" transform="translate(919.50 522.10) scale(1.03 1)" text-anchor="end">140</text>
<text class="t" transform="translate(919.50 494.28) scale(1.03 1)" text-anchor="end">160</text>
<text class="t" transform="translate(919.50 466.45) scale(1.03 1)" text-anchor="end">180</text>
<text class="t" transform="translate(919.50 437.62) scale(1.03 1)" text-anchor="end">200</text>
<text class="t" transform="translate(919.50 409.80) scale(1.03 1)" text-anchor="end">220</text>
<text class="t" transform="translate(1232.00 558.40) scale(1.03 1)" text-anchor="middle" word-spacing="1.2">t, с</text>
<text class="t" transform="translate(884.00,481.35) rotate(-90) scale(1 1.03)" word-spacing="2.2">T<tspan dx="3.1">,</tspan> °C</text>
<rect x="1415.7" y="413.0" width="110.80" height="30.40" fill="#fff" stroke="#5a5a5a" stroke-width="1.7"/>
<path d="M1422.30,428.40H1480.20" stroke="#126aaf" stroke-width="3.8"/>
<text class="lg" x="1484.10" y="432.40">ТП<tspan class="s" dx="0.6" dy="5.9">2.1</tspan></text>
</g>
<text class="cap" x="439.4" y="638.2"><tspan font-size="42">а</tspan><tspan dx="-1" dy="-1.9">)</tspan></text>
<text class="cap" x="1144" y="638.2">б<tspan dy="-1.9">)</tspan></text>
</svg></body></html>
